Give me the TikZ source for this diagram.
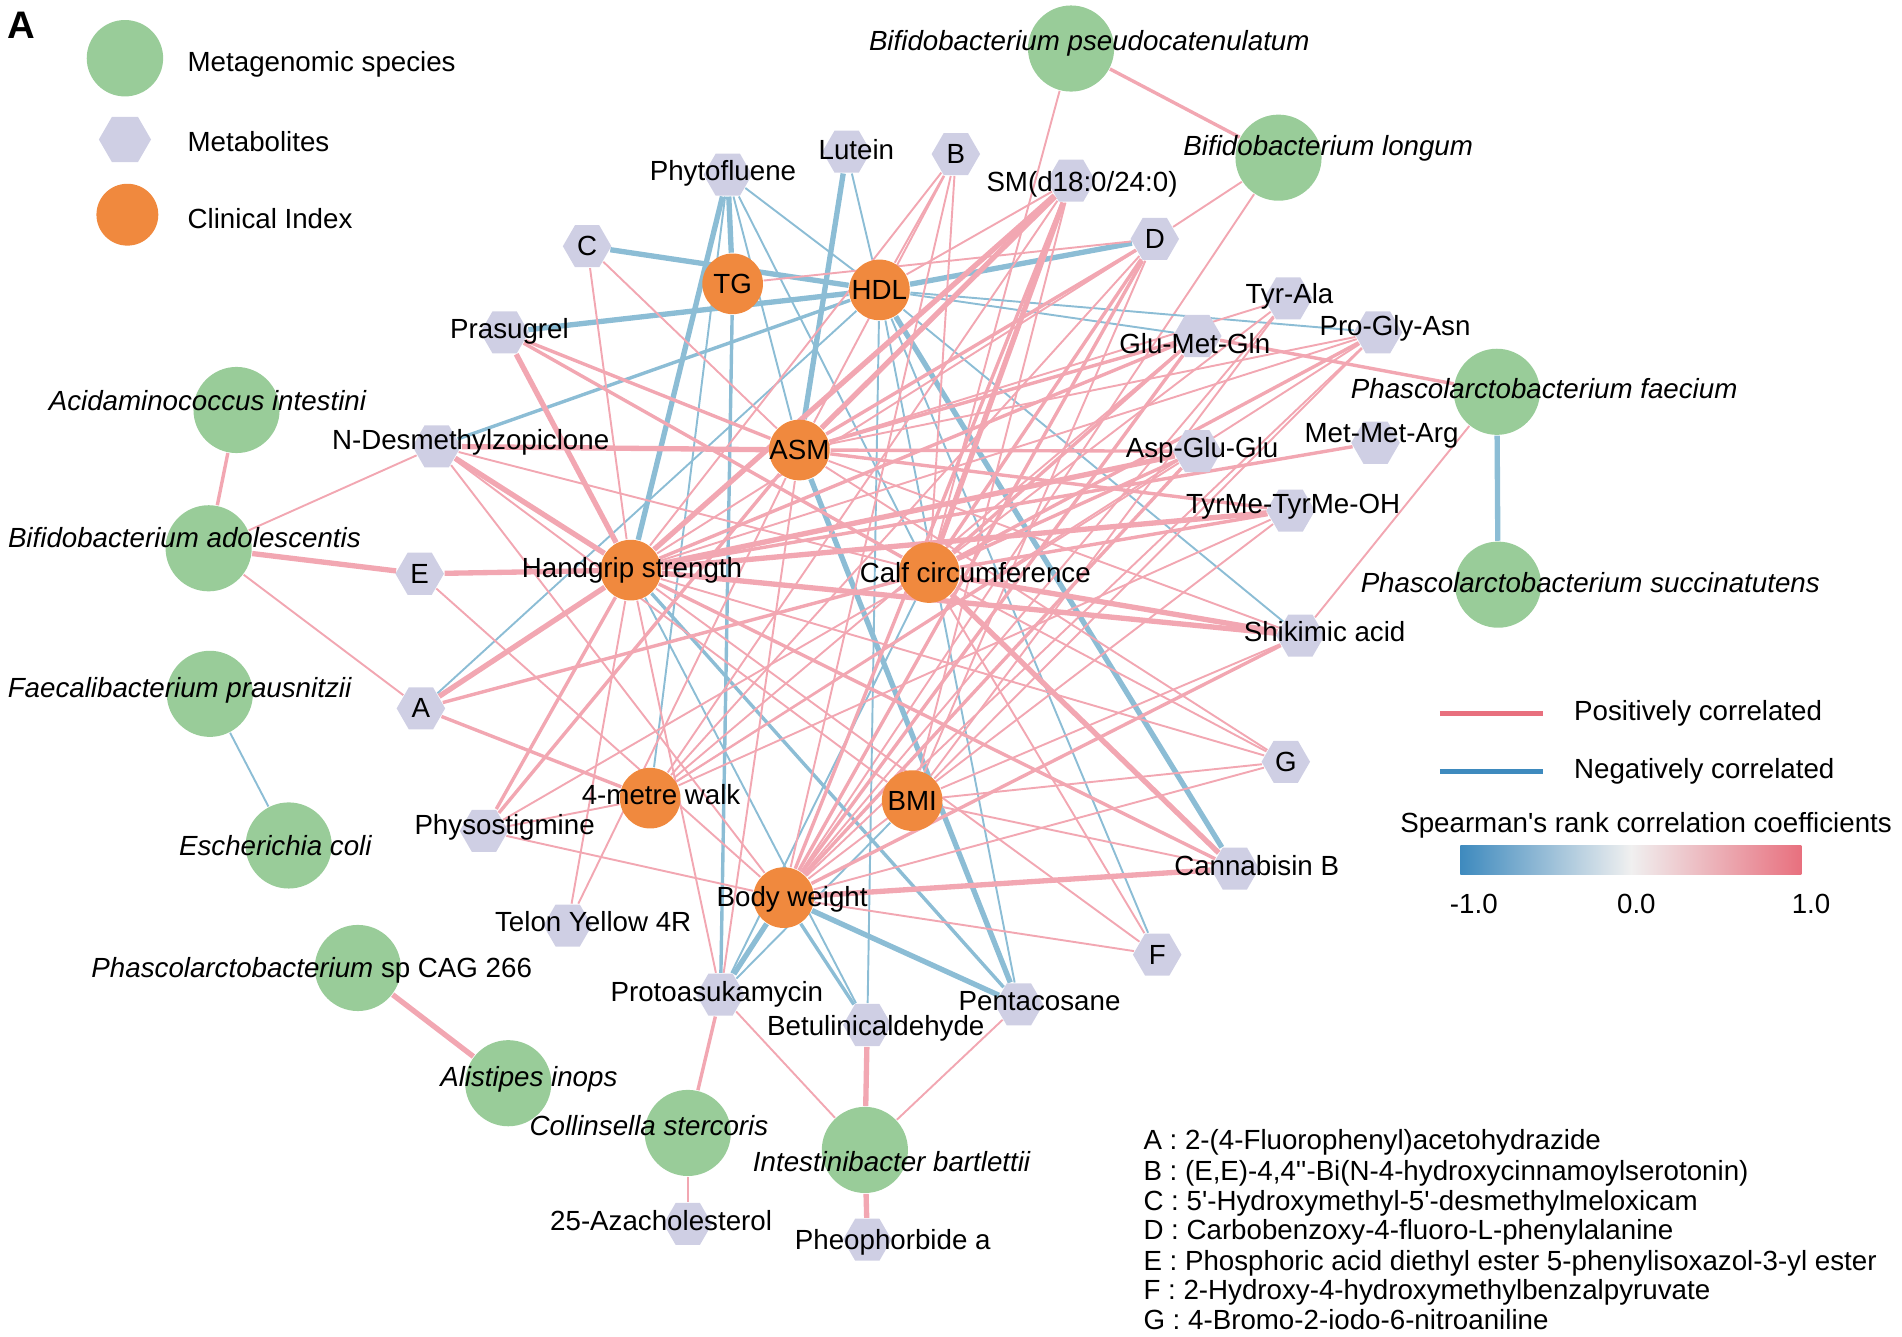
\documentclass[tikz,border=0pt]{standalone}
\usepackage{fontspec}
\setmainfont{Liberation Sans}
\usetikzlibrary{shapes.geometric, backgrounds}

\definecolor{spgreen}{RGB}{153,204,153}
\definecolor{metlav}{RGB}{207,207,228}
\definecolor{clinorange}{RGB}{240,137,62}
\definecolor{poscol}{RGB}{242,167,178}
\definecolor{negcol}{RGB}{140,189,213}
\definecolor{posdark}{RGB}{232,112,126}
\definecolor{negdark}{RGB}{62,138,190}

\begin{document}
\begin{tikzpicture}[x=0.1mm, y=-0.1mm,
    sp node/.style={circle, fill=spgreen, minimum size=7.1mm, inner sep=0pt},
    met node/.style={regular polygon, regular polygon sides=6, fill=metlav, minimum size=4mm, inner sep=0pt},
    clin node/.style={circle, fill=clinorange, minimum size=5mm, inner sep=0pt},
    lab/.style={font=\fontsize{6.5}{7.8}\selectfont, inner sep=0pt},
    sp_lab/.style={lab, font=\fontsize{6.5}{7.8}\selectfont\itshape},
    p_thin/.style={draw=poscol, line width=0.45pt},
    p_mid/.style={draw=poscol, line width=0.8pt},
    p_thick/.style={draw=poscol, line width=1.25pt},
    n_thin/.style={draw=negcol, line width=0.45pt},
    n_mid/.style={draw=negcol, line width=0.8pt},
    n_thick/.style={draw=negcol, line width=1.25pt}
]
    \useasboundingbox (0,0) rectangle (1568,1102);

    % Metagenomic species
    \node[sp node] (bpseudo) at (883,40) {};
    \node[sp node] (blong) at (1054,130) {};
    \node[sp node] (pfaec) at (1234,323) {};
    \node[sp node] (psucc) at (1235,482) {};
    \node[sp node] (acid) at (195,338) {};
    \node[sp node] (badol) at (172,452) {};
    \node[sp node] (faecal) at (173,572) {};
    \node[sp node] (ecoli) at (238,697) {};
    \node[sp node] (pcag) at (295,798) {};
    \node[sp node] (alist) at (419,893) {};
    \node[sp node] (collin) at (567,934) {};
    \node[sp node] (intest) at (713,948) {};

    % Clinical index
    \node[clin node] (tg) at (604,234) {};
    \node[clin node] (hdl) at (725,239) {};
    \node[clin node] (asm) at (659,371) {};
    \node[clin node] (hand) at (520,470) {};
    \node[clin node] (calf) at (766,472) {};
    \node[clin node] (walk) at (536,658) {};
    \node[clin node] (bmi) at (752,660) {};
    \node[clin node] (bw) at (646,740) {};

    % Metabolites
    \node[met node] (phyto) at (600,144) {};
    \node[met node] (lutein) at (698,125) {};
    \node[met node] (mb) at (788,127) {};
    \node[met node] (sm) at (883,149) {};
    \node[met node] (md) at (952,197) {};
    \node[met node] (mc) at (484,203) {};
    \node[met node] (pras) at (416,274) {};
    \node[met node] (ndes) at (360,368) {};
    \node[met node] (me) at (346,473) {};
    \node[met node] (ma) at (347,584) {};
    \node[met node] (physo) at (399,685) {};
    \node[met node] (telon) at (468,763) {};
    \node[met node] (proto) at (594,820) {};
    \node[met node] (betul) at (715,845) {};
    \node[met node] (penta) at (840,828) {};
    \node[met node] (mf) at (954,787) {};
    \node[met node] (aza) at (567,1009) {};
    \node[met node] (pheo) at (715,1022) {};
    \node[met node] (cann) at (1018,716) {};
    \node[met node] (mg) at (1060,628) {};
    \node[met node] (shik) at (1072,524) {};
    \node[met node] (tyrme) at (1064,421) {};
    \node[met node] (metmet) at (1134,365) {};
    \node[met node] (aspglu) at (987,372) {};
    \node[met node] (glumet) at (987,277) {};
    \node[met node] (tyrala) at (1062,246) {};
    \node[met node] (progly) at (1136,274) {};

    \begin{scope}[on background layer]
    % Species links
    \draw[p_mid] (bpseudo) -- (blong);
    \draw[p_thin] (bpseudo) -- (calf);
    \draw[p_thin] (blong) -- (md);
    \draw[p_thin] (blong) -- (bw);
    \draw[n_thick] (pfaec) -- (psucc);
    \draw[p_mid] (pfaec) -- (glumet);
    \draw[p_thin] (pfaec) -- (shik);
    \draw[p_mid] (acid) -- (badol);
    \draw[p_thin] (badol) -- (ndes);
    \draw[p_thick] (badol) -- (me);
    \draw[p_thin] (badol) -- (ma);
    \draw[n_thin] (faecal) -- (ecoli);
    \draw[p_thick] (pcag) -- (alist);
    \draw[p_mid] (proto) -- (collin);
    \draw[p_thin] (collin) -- (aza);
    \draw[p_thin] (proto) -- (intest);
    \draw[p_thick] (betul) -- (intest);
    \draw[p_thin] (penta) -- (intest);
    \draw[p_thick] (intest) -- (pheo);

    % Negative correlations
    \draw[n_thick] (tg) -- (phyto);
    \draw[n_mid] (tg) -- (proto);
    \draw[n_thick] (hdl) -- (mc);
    \draw[n_thick] (hdl) -- (pras);
    \draw[n_mid] (hdl) -- (ndes);
    \draw[n_thin] (hdl) -- (ma);
    \draw[n_thin] (hdl) -- (lutein);
    \draw[n_thin] (hdl) -- (phyto);
    \draw[n_thick] (hdl) -- (md);
    \draw[n_thin] (hdl) -- (glumet);
    \draw[n_thin] (hdl) -- (progly);
    \draw[n_thin] (hdl) -- (shik);
    \draw[n_thick] (hdl) -- (cann);
    \draw[n_thin] (hdl) -- (mf);
    \draw[n_thin] (hdl) -- (penta);
    \draw[n_thin] (hdl) -- (betul);
    \draw[n_thick] (asm) -- (lutein);
    \draw[n_thin] (asm) -- (phyto);
    \draw[n_thick] (asm) -- (penta);
    \draw[n_thick] (hand) -- (phyto);
    \draw[n_mid] (hand) -- (penta);
    \draw[n_thin] (hand) -- (betul);
    \draw[n_thin] (calf) -- (phyto);
    \draw[n_thin] (calf) -- (proto);
    \draw[n_thin] (walk) -- (phyto);
    \draw[n_thin] (bmi) -- (proto);
    \draw[n_thick] (bw) -- (proto);
    \draw[n_thick] (bw) -- (penta);
    \draw[n_mid] (bw) -- (betul);

    % Positive correlations
    \draw[p_thin] (tg) -- (md);
    \draw[p_thin] (hdl) -- (mb);
    \draw[p_thin] (hdl) -- (sm);

    \draw[p_thick] (asm) -- (sm);
    \draw[p_thick] (asm) -- (ndes);
    \draw[p_mid] (asm) -- (pras);
    \draw[p_thin] (asm) -- (mc);
    \draw[p_mid] (asm) -- (md);
    \draw[p_mid] (asm) -- (glumet);
    \draw[p_mid] (asm) -- (aspglu);
    \draw[p_mid] (asm) -- (tyrme);
    \draw[p_thin] (asm) -- (progly);
    \draw[p_thin] (asm) -- (tyrala);
    \draw[p_thin] (asm) -- (shik);
    \draw[p_thin] (asm) -- (mg);
    \draw[p_mid] (asm) -- (physo);
    \draw[p_thin] (asm) -- (telon);
    \draw[p_thin] (asm) -- (proto);
    \draw[p_thin] (asm) -- (mb);

    \draw[p_thick] (hand) -- (pras);
    \draw[p_thick] (hand) -- (ndes);
    \draw[p_thick] (hand) -- (me);
    \draw[p_thick] (hand) -- (ma);
    \draw[p_mid] (hand) -- (physo);
    \draw[p_thin] (hand) -- (telon);
    \draw[p_thin] (hand) -- (mc);
    \draw[p_thick] (hand) -- (sm);
    \draw[p_thin] (hand) -- (md);
    \draw[p_mid] (hand) -- (glumet);
    \draw[p_thick] (hand) -- (aspglu);
    \draw[p_thick] (hand) -- (tyrme);
    \draw[p_mid] (hand) -- (metmet);
    \draw[p_thick] (hand) -- (shik);
    \draw[p_thin] (hand) -- (mg);
    \draw[p_mid] (hand) -- (cann);
    \draw[p_thin] (hand) -- (mf);
    \draw[p_thin] (hand) -- (proto);
    \draw[p_thin] (hand) -- (mb);
    \draw[p_thin] (hand) -- (progly);

    \draw[p_thick] (calf) -- (sm);
    \draw[p_mid] (calf) -- (md);
    \draw[p_mid] (calf) -- (pras);
    \draw[p_thin] (calf) -- (ndes);
    \draw[p_mid] (calf) -- (glumet);
    \draw[p_thin] (calf) -- (tyrala);
    \draw[p_mid] (calf) -- (progly);
    \draw[p_mid] (calf) -- (aspglu);
    \draw[p_mid] (calf) -- (tyrme);
    \draw[p_thick] (calf) -- (shik);
    \draw[p_thin] (calf) -- (mg);
    \draw[p_thick] (calf) -- (cann);
    \draw[p_mid] (calf) -- (ma);
    \draw[p_thin] (calf) -- (physo);
    \draw[p_thin] (calf) -- (mb);
    \draw[p_thin] (calf) -- (mf);

    \draw[p_thin] (walk) -- (sm);
    \draw[p_thin] (walk) -- (md);
    \draw[p_thin] (walk) -- (glumet);
    \draw[p_thin] (walk) -- (progly);
    \draw[p_thin] (walk) -- (tyrme);
    \draw[p_mid] (walk) -- (ma);
    \draw[p_thin] (walk) -- (aspglu);
    \draw[p_thin] (walk) -- (physo);

    \draw[p_thin] (bmi) -- (shik);
    \draw[p_thin] (bmi) -- (mg);
    \draw[p_thin] (bmi) -- (md);
    \draw[p_thin] (bmi) -- (progly);
    \draw[p_thin] (bmi) -- (sm);
    \draw[p_thin] (bmi) -- (ndes);
    \draw[p_thin] (bmi) -- (tyrala);
    \draw[p_thin] (bmi) -- (cann);

    \draw[p_mid] (bw) -- (sm);
    \draw[p_mid] (bw) -- (md);
    \draw[p_mid] (bw) -- (glumet);
    \draw[p_thin] (bw) -- (progly);
    \draw[p_thin] (bw) -- (tyrala);
    \draw[p_mid] (bw) -- (aspglu);
    \draw[p_thin] (bw) -- (tyrme);
    \draw[p_mid] (bw) -- (shik);
    \draw[p_thin] (bw) -- (mg);
    \draw[p_thick] (bw) -- (cann);
    \draw[p_thin] (bw) -- (mf);
    \draw[p_thin] (bw) -- (me);
    \draw[p_thin] (bw) -- (ndes);
    \draw[p_thin] (bw) -- (mb);
    \draw[p_thin] (bw) -- (physo);
    \end{scope}

    % Node labels
    \node[sp_lab] (bpseudo-l) at (898,36) {Bifidobacterium pseudocatenulatum};
    \node[sp_lab] (blong-l) at (1095,122) {Bifidobacterium longum};
    \node[sp_lab] (pfaec-l) at (1273,320) {Phascolarctobacterium faecium};
    \node[sp_lab] (psucc-l) at (1311,480) {Phascolarctobacterium succinatutens};
    \node[sp_lab] (acid-l) at (171,330) {Acidaminococcus intestini};
    \node[sp_lab] (badol-l) at (152,443) {Bifidobacterium adolescentis};
    \node[sp_lab] (faecal-l) at (148,569) {Faecalibacterium prausnitzii};
    \node[sp_lab] (ecoli-l) at (227,697) {Escherichia coli};
    \node[lab] (pcag-l) at (257,800) {\itshape Phascolarctobacterium\upshape\ sp CAG 266};
    \node[sp_lab] (alist-l) at (436,890) {Alistipes inops};
    \node[sp_lab] (collin-l) at (535,928) {Collinsella stercoris};
    \node[sp_lab] (intest-l) at (735,958) {Intestinibacter bartlettii};

    \node[lab] (tg-l) at (604,234) {TG};
    \node[lab] (hdl-l) at (725,239) {HDL};
    \node[lab] (asm-l) at (659,371) {ASM};
    \node[lab] (hand-l) at (521,470) {Handgrip strength};
    \node[lab] (calf-l) at (804,472) {Calf circumference};
    \node[lab] (walk-l) at (545,655) {4-metre walk};
    \node[lab] (bmi-l) at (752,660) {BMI};
    \node[lab] (bw-l) at (653,741) {Body weight};

    \node[lab] (phyto-l) at (596,143) {Phytofluene};
    \node[lab] (lutein-l) at (706,123) {Lutein};
    \node[lab] (mb-l) at (788,127) {B};
    \node[lab] (sm-l) at (892,152) {SM(d18:0/24:0)};
    \node[lab] (md-l) at (952,197) {D};
    \node[lab] (mc-l) at (484,203) {C};
    \node[lab] (pras-l) at (420,273) {Prasugrel};
    \node[lab] (ndes-l) at (388,365) {N-Desmethylzopiclone};
    \node[lab] (me-l) at (346,473) {E};
    \node[lab] (ma-l) at (347,584) {A};
    \node[lab] (physo-l) at (416,682) {Physostigmine};
    \node[lab] (telon-l) at (489,760) {Telon Yellow 4R};
    \node[lab] (proto-l) at (591,820) {Protoasukamycin};
    \node[lab] (betul-l) at (722,848) {Betulinicaldehyde};
    \node[lab] (penta-l) at (857,825) {Pentacosane};
    \node[lab] (mf-l) at (954,787) {F};
    \node[lab] (aza-l) at (545,1006) {25-Azacholesterol};
    \node[lab] (pheo-l) at (736,1024) {Pheophorbide a};
    \node[lab] (cann-l) at (1036,714) {Cannabisin B};
    \node[lab] (mg-l) at (1060,628) {G};
    \node[lab] (shik-l) at (1092,521) {Shikimic acid};
    \node[lab] (tyrme-l) at (1066,418) {TyrMe-TyrMe-OH};
    \node[lab] (metmet-l) at (1139,359) {Met-Met-Arg};
    \node[lab] (aspglu-l) at (991,371) {Asp-Glu-Glu};
    \node[lab] (glumet-l) at (985,283) {Glu-Met-Gln};
    \node[lab] (tyrala-l) at (1063,244) {Tyr-Ala};
    \node[lab] (progly-l) at (1150,271) {Pro-Gly-Asn};

    % Node type legend
    \node[font=\fontsize{9}{10}\selectfont\bfseries, inner sep=0pt] (panel) at (18,21) {A};
    \node[sp node, minimum size=6.3mm] (leg-sp) at (103,48) {};
    \node[lab, anchor=west] (leg-sp-t) at (154,53) {Metagenomic species};
    \node[met node, minimum size=4.3mm] (leg-met) at (103,115) {};
    \node[lab, anchor=west] (leg-met-t) at (154,117) {Metabolites};
    \node[clin node, minimum size=5.1mm] (leg-clin) at (105,177) {};
    \node[lab, anchor=west] (leg-clin-t) at (154,180) {Clinical Index};

    % Edge legend and colour bar
    \draw[posdark, line width=1.1pt] (1187,588) -- (1272,588);
    \node[lab, anchor=west] (leg-pos) at (1297,588) {Positively correlated};
    \draw[negdark, line width=1.1pt] (1187,636) -- (1272,636);
    \node[lab, anchor=west] (leg-neg) at (1297,636) {Negatively correlated};
    \node[lab] (cb-title) at (1357,680) {Spearman\textquotesingle s rank correlation coefficients};
    \shade[left color=negdark, right color=posdark, middle color=white!94!black] (1204,697) rectangle (1485,721);
    \node[lab] (cb-lo) at (1215,745) {-1.0};
    \node[lab] (cb-mid) at (1349,745) {0.0};
    \node[lab] (cb-hi) at (1493,745) {1.0};

    % Abbreviations
    \node[lab, anchor=base west] (abbA) at (942,948) {A : 2-(4-Fluorophenyl)acetohydrazide};
    \node[lab, anchor=base west] (abbB) at (942,973) {B : (E,E)-4,4\textquotesingle\textquotesingle-Bi(N-4-hydroxycinnamoylserotonin)};
    \node[lab, anchor=base west] (abbC) at (942,998) {C : 5\textquotesingle-Hydroxymethyl-5\textquotesingle-desmethylmeloxicam};
    \node[lab, anchor=base west] (abbD) at (942,1022) {D : Carbobenzoxy-4-fluoro-L-phenylalanine};
    \node[lab, anchor=base west] (abbE) at (942,1047) {E : Phosphoric acid diethyl ester 5-phenylisoxazol-3-yl ester};
    \node[lab, anchor=base west] (abbF) at (942,1071) {F : 2-Hydroxy-4-hydroxymethylbenzalpyruvate};
    \node[lab, anchor=base west] (abbG) at (942,1096) {G : 4-Bromo-2-iodo-6-nitroaniline};
\end{tikzpicture}
\end{document}
